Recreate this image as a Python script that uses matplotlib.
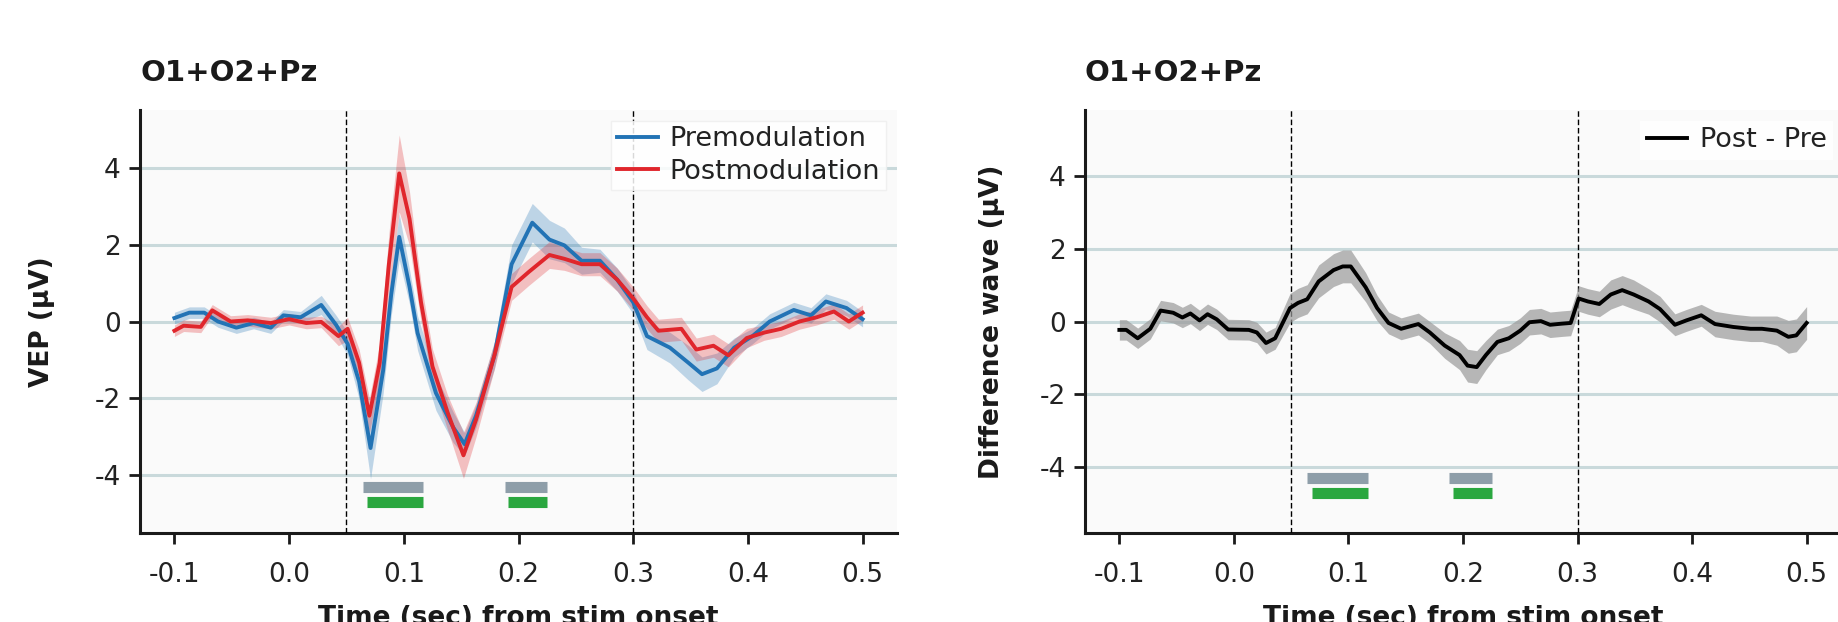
import numpy as np
import matplotlib
matplotlib.use("Agg")
import matplotlib.pyplot as plt

# ---------------- data ----------------
t_pre = [-0.1, -0.087, -0.074, -0.062, -0.046, -0.031, -0.016, -0.005, 0.01, 0.028,
         0.041, 0.051, 0.061, 0.071, 0.082, 0.089, 0.096, 0.105, 0.112, 0.128,
         0.143, 0.153, 0.163, 0.179, 0.194, 0.212, 0.227, 0.24, 0.255, 0.271,
         0.286, 0.3, 0.312, 0.332, 0.348, 0.36, 0.373, 0.388, 0.404, 0.419,
         0.44, 0.455, 0.468, 0.486, 0.5]
v_pre = [0.09, 0.23, 0.23, 0.0, -0.16, -0.04, -0.16, 0.16, 0.11, 0.43,
         -0.09, -0.58, -1.56, -3.29, -1.27, 0.7, 2.2, 0.9, -0.3, -1.86,
         -2.75, -3.19, -2.45, -0.88, 1.49, 2.57, 2.13, 1.98, 1.58, 1.58,
         1.09, 0.5, -0.38, -0.68, -1.07, -1.37, -1.22, -0.68, -0.38, 0.0,
         0.3, 0.16, 0.52, 0.35, 0.06]
e_pre = [0.15, 0.15, 0.15, 0.15, 0.15, 0.15, 0.15, 0.15, 0.15, 0.25,
         0.25, 0.3, 0.45, 0.8, 0.6, 0.55, 0.6, 0.45, 0.45, 0.45,
         0.4, 0.3, 0.3, 0.35, 0.5, 0.5, 0.5, 0.45, 0.35, 0.3,
         0.3, 0.3, 0.35, 0.4, 0.45, 0.45, 0.4, 0.25, 0.2, 0.2,
         0.2, 0.2, 0.2, 0.2, 0.2]

t_post = [-0.1, -0.092, -0.077, -0.067, -0.051, -0.036, -0.016, 0.0, 0.015, 0.028,
          0.043, 0.051, 0.061, 0.07, 0.079, 0.087, 0.096, 0.105, 0.115, 0.125,
          0.138, 0.152, 0.163, 0.179, 0.194, 0.209, 0.227, 0.24, 0.255, 0.271,
          0.286, 0.3, 0.312, 0.322, 0.342, 0.355, 0.37, 0.383, 0.399, 0.414,
          0.429, 0.445, 0.46, 0.475, 0.488, 0.5]
v_post = [-0.24, -0.11, -0.14, 0.29, 0.0, 0.03, -0.04, 0.06, -0.04, -0.01,
          -0.38, -0.19, -1.07, -2.45, -1.07, 1.49, 3.85, 2.67, 0.5, -1.17,
          -2.35, -3.48, -2.55, -0.88, 0.9, 1.29, 1.73, 1.63, 1.49, 1.49,
          1.09, 0.6, 0.11, -0.24, -0.19, -0.73, -0.63, -0.88, -0.43, -0.29,
          -0.19, 0.0, 0.11, 0.26, 0.0, 0.23]
e_post = [0.15, 0.15, 0.15, 0.15, 0.15, 0.15, 0.15, 0.15, 0.15, 0.15,
          0.25, 0.3, 0.35, 0.45, 0.5, 0.8, 1.0, 0.7, 0.5, 0.45,
          0.45, 0.6, 0.45, 0.35, 0.35, 0.35, 0.35, 0.3, 0.3, 0.3,
          0.3, 0.3, 0.3, 0.3, 0.3, 0.3, 0.3, 0.3, 0.25, 0.2,
          0.2, 0.2, 0.2, 0.2, 0.2, 0.2]

t_diff = [-0.1, -0.094, -0.084, -0.073, -0.064, -0.053, -0.045, -0.038, -0.03, -0.023,
          -0.015, -0.005, 0.013, 0.02, 0.028, 0.036, 0.049, 0.056, 0.064, 0.074,
          0.087, 0.095, 0.102, 0.115, 0.125, 0.135, 0.146, 0.161, 0.171, 0.184,
          0.197, 0.204, 0.212, 0.22, 0.23, 0.24, 0.25, 0.258, 0.268, 0.276,
          0.286, 0.294, 0.301, 0.309, 0.319, 0.329, 0.339, 0.349, 0.362, 0.372,
          0.385, 0.395, 0.408, 0.42, 0.436, 0.451, 0.461, 0.474, 0.484, 0.491, 0.5]
v_diff = [-0.23, -0.23, -0.46, -0.2, 0.3, 0.24, 0.11, 0.22, 0.03, 0.2,
          0.06, -0.22, -0.23, -0.3, -0.59, -0.46, 0.37, 0.51, 0.61, 1.1,
          1.41, 1.51, 1.51, 0.94, 0.37, -0.04, -0.2, -0.07, -0.3, -0.66,
          -0.92, -1.21, -1.25, -0.92, -0.56, -0.46, -0.25, -0.02, 0.01, -0.09,
          -0.06, -0.04, 0.63, 0.55, 0.48, 0.74, 0.86, 0.74, 0.55, 0.34,
          -0.09, 0.03, 0.17, -0.07, -0.15, -0.2, -0.2, -0.25, -0.42, -0.38, -0.04]
e_diff = [0.28, 0.28, 0.28, 0.28, 0.28, 0.28, 0.28, 0.28, 0.28, 0.28,
          0.28, 0.28, 0.28, 0.28, 0.3, 0.3, 0.4, 0.4, 0.4, 0.45,
          0.45, 0.45, 0.45, 0.4, 0.35, 0.3, 0.3, 0.3, 0.3, 0.35,
          0.4, 0.45, 0.45, 0.4, 0.35, 0.35, 0.35, 0.35, 0.35, 0.35,
          0.35, 0.35, 0.35, 0.35, 0.35, 0.4, 0.4, 0.4, 0.35, 0.35,
          0.3, 0.3, 0.3, 0.35, 0.35, 0.35, 0.35, 0.4, 0.45, 0.45, 0.45]

# significance windows (start, end) in seconds
sig_gray = [(0.064, 0.117), (0.188, 0.225)]
sig_green = [(0.068, 0.117), (0.191, 0.225)]
sig_gray_y = -4.3
sig_green_y = -4.7

vlines_t = [0.05, 0.3]
xticks = [-0.1, 0.0, 0.1, 0.2, 0.3, 0.4, 0.5]
yticks = [-4, -2, 0, 2, 4]
title = "O1+O2+Pz"
xlabel = "Time (sec) from stim onset"

# ---------------- style ----------------
BLUE = "#2273b5"
RED = "#e0262c"
GRID = "#c9d9db"
AXBG = "#fafafa"
GRAYBAR = "#8e9ea9"
GREENBAR = "#2aa73f"

plt.rcParams["font.family"] = ["DejaVu Sans"]

fig = plt.figure(figsize=(18.38, 6.22), dpi=100)
W, H = 1838, 622
ax1 = fig.add_axes([140 / W, 89 / H, 757 / W, 423 / H])
ax2 = fig.add_axes([1085 / W, 89 / H, 756 / W, 423 / H])


def style(ax, ylim):
    ax.set_facecolor(AXBG)
    ax.set_xlim(-0.13, 0.53)
    ax.set_ylim(*ylim)
    ax.set_xticks(xticks)
    ax.set_xticklabels([f"{x:.1f}" for x in xticks])
    ax.set_yticks(yticks)
    ax.set_yticklabels([str(y) for y in yticks])
    ax.yaxis.grid(True, color=GRID, lw=2.2)
    ax.xaxis.grid(False)
    ax.set_axisbelow(True)
    for s in ["top", "right"]:
        ax.spines[s].set_visible(False)
    for s in ["left", "bottom"]:
        ax.spines[s].set_linewidth(2.2)
        ax.spines[s].set_color("#1a1a1a")
    ax.tick_params(axis="both", labelsize=19, length=8, width=2, color="#1a1a1a",
                   labelcolor="#222222")
    ax.tick_params(axis="x", pad=13)
    ax.tick_params(axis="y", pad=6)
    for tv in vlines_t:
        ax.axvline(tv, color="black", lw=1.0, ls=(0, (4, 2)), zorder=3)
    for (a, b) in sig_gray:
        ax.hlines(sig_gray_y, a, b, color=GRAYBAR, lw=8, zorder=2)
    for (a, b) in sig_green:
        ax.hlines(sig_green_y, a, b, color=GREENBAR, lw=8, zorder=2)
    ax.set_title(title, loc="left", fontsize=21, fontweight="bold", pad=21,
                 color="#1a1a1a")
    ax.set_xlabel(xlabel, fontsize=19, fontweight="bold", color="#1a1a1a")


# left panel
style(ax1, (-5.5, 5.5))
tp, vp, ep = np.array(t_pre), np.array(v_pre), np.array(e_pre)
tq, vq, eq = np.array(t_post), np.array(v_post), np.array(e_post)
ax1.fill_between(tp, vp - ep, vp + ep, color=BLUE, alpha=0.28, lw=0, zorder=4)
ax1.fill_between(tq, vq - eq, vq + eq, color=RED, alpha=0.28, lw=0, zorder=4)
ax1.plot(tp, vp, color=BLUE, lw=2.8, label="Premodulation", zorder=5)
ax1.plot(tq, vq, color=RED, lw=2.8, label="Postmodulation", zorder=6)
ax1.set_ylabel("VEP (μV)", fontsize=19, fontweight="bold", color="#1a1a1a")
ax1.yaxis.set_label_coords(-0.112, 0.5)
ax1.xaxis.set_label_coords(0.5, -0.17)
leg1 = ax1.legend(loc="upper right", bbox_to_anchor=(0.985, 0.975), borderaxespad=0,
                  fontsize=19.5, handlelength=1.5, handletextpad=0.45, labelspacing=0.25,
                  frameon=True, facecolor="white", edgecolor="#eeeeee", framealpha=0.85,
                  fancybox=False, borderpad=0.2)
for txt in leg1.get_texts():
    txt.set_color("#222222")

# right panel
style(ax2, (-5.8, 5.8))
td, vd, ed = np.array(t_diff), np.array(v_diff), np.array(e_diff)
ax2.fill_between(td, vd - ed, vd + ed, color="#9a9a9a", alpha=0.7, lw=0, zorder=4)
ax2.plot(td, vd, color="black", lw=2.8, label="Post - Pre", zorder=5)
ax2.set_ylabel("Difference wave (μV)", fontsize=19, fontweight="bold", color="#1a1a1a")
ax2.yaxis.set_label_coords(-0.106, 0.5)
ax2.xaxis.set_label_coords(0.5, -0.17)
leg2 = ax2.legend(loc="upper right", bbox_to_anchor=(0.99, 0.975), borderaxespad=0,
                  fontsize=19.5, handlelength=1.5, handletextpad=0.45,
                  frameon=True, facecolor="white", edgecolor="none", framealpha=0.85,
                  fancybox=False, borderpad=0.25)
for txt in leg2.get_texts():
    txt.set_color("#222222")

fig.savefig("out.png", dpi=100, facecolor="white")
